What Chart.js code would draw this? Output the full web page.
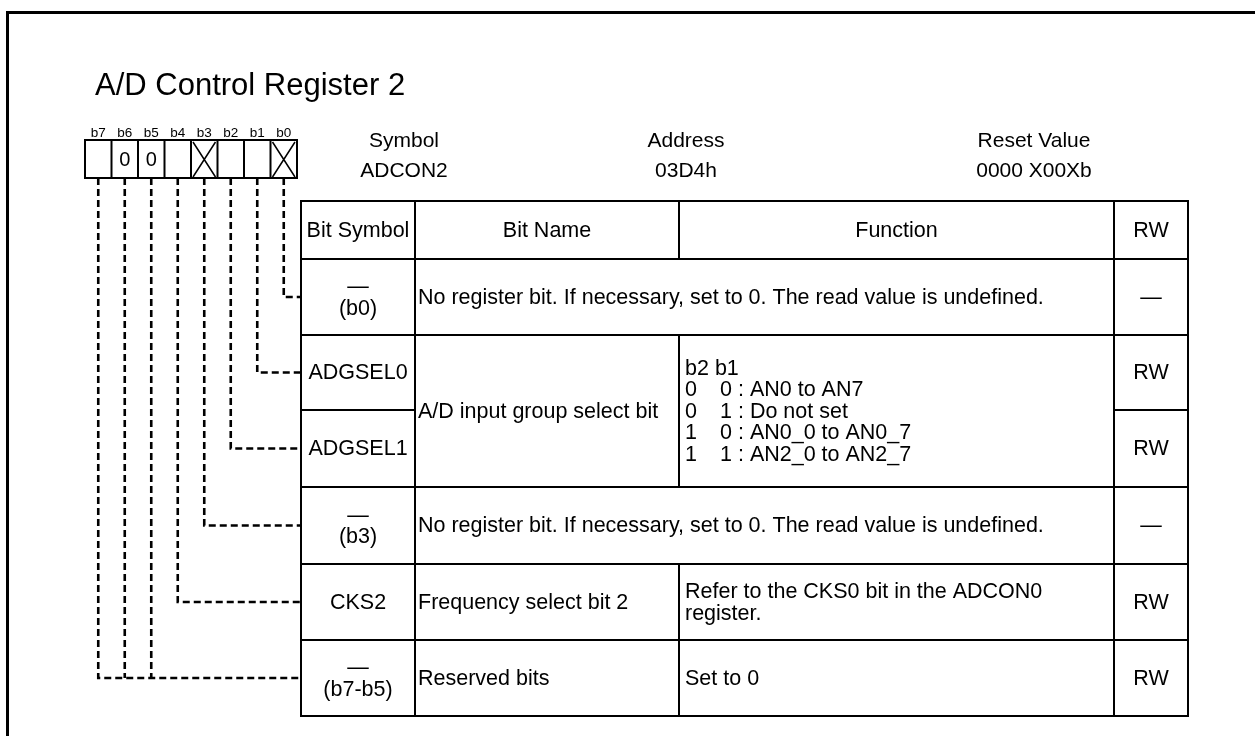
<!DOCTYPE html>
<html>
<head>
<meta charset="utf-8">
<script src="https://cdn.jsdelivr.net/npm/chart.js@4.4.1/dist/chart.umd.min.js"></script>
<style>
  html, body { margin: 0; padding: 0; background: #fff; }
  canvas { display: block; }
</style>
</head>
<body>
<canvas id="reg" width="1255" height="736"></canvas>
<script>
// ---- register data ----
const title = "A/D Control Register 2";
const bitLabels = ["b7", "b6", "b5", "b4", "b3", "b2", "b1", "b0"];
const bitCells = ["", "0", "0", "", "x", "", "", "x"];   // "x" = no bit
const bitTargetRow = [5, 5, 5, 4, 3, 2, 1, 0];           // table row each bit points to
const infoLabels = ["Symbol", "Address", "Reset Value"];
const infoValues = ["ADCON2", "03D4h", "0000 X00Xb"];
const headerCells = ["Bit Symbol", "Bit Name", "Function", "RW"];
const symbolCells = [["\u2014", "(b0)"], ["ADGSEL0"], ["ADGSEL1"], ["\u2014", "(b3)"], ["CKS2"], ["\u2014", "(b7-b5)"]];
const nameCells = [
    "No register bit. If necessary, set to 0. The read value is undefined.",
    "A/D input group select bit",
    null,
    "No register bit. If necessary, set to 0. The read value is undefined.",
    "Frequency select bit 2",
    "Reserved bits"
];
const nameSpans = [[1, 2], [2, 1], [0, 0], [1, 2], [1, 1], [1, 1]]; // [rows, cols]
const functionCells = [
    null,
    [["b2 b1"], ["0", "0 : AN0 to AN7"], ["0", "1 : Do not set"], ["1", "0 : AN0_0 to AN0_7"], ["1", "1 : AN2_0 to AN2_7"]],
    null,
    null,
    [["Refer to the CKS0 bit in the ADCON0"], ["register."]],
    [["Set to 0"]]
];
const rwCells = ["\u2014", "RW", "RW", "\u2014", "RW", "RW"];

// ---- layout (page units, mapped through the chart scales) ----
const W = 1255, H = 736;
const FONT = '"Liberation Sans", Arial, Helvetica, sans-serif';
const COL = [301, 415, 679, 1114, 1188];
const ROW = [201, 259, 335, 410, 487, 564, 640, 716];
const BOX = { left: 85, right: 297, top: 140, bottom: 178 };
const INFO_X = [404, 686, 1034];
const LINE_H = 21.5;

const bitW = (BOX.right - BOX.left) / bitLabels.length;
const bitX = i => BOX.left + bitW * (i + 0.5);
const rowMid = i => (ROW[i + 1] + ROW[i + 2]) / 2;

// dashed leader lines from each bit down to its row
const leaders = bitLabels.map((b, i) => {
    const y = rowMid(bitTargetRow[i]);
    const pts = [{ x: bitX(i), y: BOX.bottom }, { x: bitX(i), y: y }];
    // bits sharing one row: only the leftmost carries the horizontal run
    const first = bitTargetRow.indexOf(bitTargetRow[i]) === i;
    if (first) pts.push({ x: COL[0], y: y });
    return {
        label: b,
        data: pts,
        showLine: true,
        borderColor: "#000",
        borderWidth: 2.6,
        borderDash: [7, 4],
        borderCapStyle: "butt",
        borderJoinStyle: "miter",
        pointRadius: 0,
        tension: 0
    };
});

const registerPlugin = {
    id: "register",
    afterDraw(chart) {
        const ctx = chart.ctx;
        const sx = chart.scales.x, sy = chart.scales.y;
        const px = v => sx.getPixelForValue(v);
        const py = v => sy.getPixelForValue(v);
        ctx.save();
        ctx.fillStyle = "#000";
        ctx.strokeStyle = "#000";

        // outer frame (open to right and bottom)
        ctx.lineWidth = 3;
        ctx.strokeRect(px(7.5), py(12.5), px(W + 20) - px(7.5), py(H + 20) - py(12.5));

        // title
        ctx.font = "31px " + FONT;
        ctx.textAlign = "left";
        ctx.textBaseline = "alphabetic";
        ctx.fillText(title, px(95), py(95));
        ctx.textBaseline = "middle";

        // bit labels and boxes
        ctx.font = "13.5px " + FONT;
        ctx.textAlign = "center";
        bitLabels.forEach((b, i) => ctx.fillText(b, px(bitX(i)), py(133)));
        ctx.lineWidth = 2;
        ctx.strokeRect(px(BOX.left), py(BOX.top), px(BOX.right) - px(BOX.left), py(BOX.bottom) - py(BOX.top));
        ctx.font = "20px " + FONT;
        bitCells.forEach((c, i) => {
            const x0 = BOX.left + bitW * i, x1 = x0 + bitW;
            if (i > 0) {
                ctx.beginPath();
                ctx.moveTo(px(x0), py(BOX.top));
                ctx.lineTo(px(x0), py(BOX.bottom));
                ctx.stroke();
            }
            if (c === "x") {
                ctx.lineWidth = 1.5;
                ctx.beginPath();
                ctx.moveTo(px(x0 + 2), py(BOX.top + 2));
                ctx.lineTo(px(x1 - 2), py(BOX.bottom - 1));
                ctx.moveTo(px(x1 - 2), py(BOX.top + 2));
                ctx.lineTo(px(x0 + 2), py(BOX.bottom - 1));
                ctx.stroke();
                ctx.lineWidth = 2;
            } else if (c) {
                ctx.fillText(c, px(bitX(i)), py((BOX.top + BOX.bottom) / 2 + 1));
            }
        });

        // symbol / address / reset value
        ctx.font = "21px " + FONT;
        infoLabels.forEach((l, i) => {
            ctx.fillText(l, px(INFO_X[i]), py(141));
            ctx.fillText(infoValues[i], px(INFO_X[i]), py(171));
        });

        // table helpers
        function box(r0, r1, c0, c1) {
            ctx.lineWidth = 2;
            ctx.strokeRect(px(COL[c0]), py(ROW[r0]), px(COL[c1]) - px(COL[c0]), py(ROW[r1]) - py(ROW[r0]));
        }
        function lines(list, x, cy, align, tab) {
            ctx.textAlign = align;
            const top = cy - (list.length - 1) * LINE_H / 2;
            list.forEach((ln, k) => {
                const parts = Array.isArray(ln) ? ln : [ln];
                const y = py(top + k * LINE_H + 1);
                ctx.fillText(parts[0], px(x), y);
                if (parts.length === 2) ctx.fillText(parts[1], px(x + tab), y);
            });
        }

        ctx.font = "21.5px " + FONT;
        // header row
        headerCells.forEach((h, c) => {
            box(0, 1, c, c + 1);
            lines([h], (COL[c] + COL[c + 1]) / 2, (ROW[0] + ROW[1]) / 2, "center");
        });

        // body rows
        symbolCells.forEach((sym, i) => {
            const r = i + 1;
            box(r, r + 1, 0, 1);
            lines(sym, (COL[0] + COL[1]) / 2, (ROW[r] + ROW[r + 1]) / 2, "center");

            const [rs, cs] = nameSpans[i];
            if (rs > 0) {
                box(r, r + rs, 1, 1 + cs);
                const cy = (ROW[r] + ROW[r + rs]) / 2;
                lines([nameCells[i]], COL[1] + 3, cy, "left");
                if (cs === 1) {
                    box(r, r + rs, 2, 3);
                    if (functionCells[i]) lines(functionCells[i], COL[2] + 6, cy, "left", 35);
                }
            }

            box(r, r + 1, 3, 4);
            lines([rwCells[i]], (COL[3] + COL[4]) / 2, (ROW[r] + ROW[r + 1]) / 2, "center");
        });

        ctx.restore();
    }
};

new Chart(document.getElementById("reg"), {
    type: "scatter",
    data: { datasets: leaders },
    options: {
        responsive: false,
        animation: false,
        layout: { padding: 0 },
        plugins: {
            legend: { display: false },
            tooltip: { enabled: false }
        },
        scales: {
            x: { type: "linear", min: 0, max: W, display: false },
            y: { type: "linear", min: 0, max: H, reverse: true, display: false }
        }
    },
    plugins: [registerPlugin]
});
</script>
</body>
</html>
